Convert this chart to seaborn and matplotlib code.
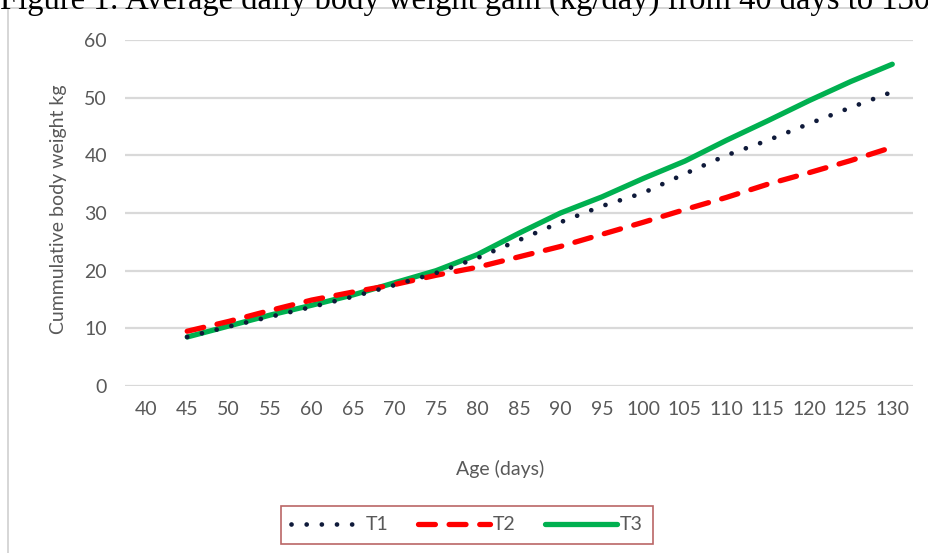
import matplotlib
matplotlib.use("Agg")
import matplotlib.pyplot as plt
from matplotlib.patches import Rectangle
import seaborn as sns
import pandas as pd

# Age categories on the x axis and cumulative weight per treatment (kg)
ages_axis = [40, 45, 50, 55, 60, 65, 70, 75, 80, 85, 90, 95, 100, 105, 110, 115, 120, 125, 130]
ages = [45, 50, 55, 60, 65, 70, 75, 80, 85, 90, 95, 100, 105, 110, 115, 120, 125, 130]
t1 = [8.5, 10.3, 12.0, 13.7, 15.5, 17.5, 19.6, 22.2, 25.3, 28.4, 31.2, 33.5, 36.8, 40.0, 42.6, 45.5, 48.3, 51.0]
t2 = [9.5, 11.2, 13.1, 14.9, 16.3, 17.6, 19.2, 20.6, 22.4, 24.2, 26.3, 28.4, 30.6, 32.7, 35.0, 37.0, 39.1, 41.4]
t3 = [8.5, 10.4, 12.3, 14.0, 15.8, 17.9, 20.0, 22.8, 26.5, 30.0, 32.8, 36.0, 39.0, 42.6, 46.0, 49.5, 52.8, 55.8]
y_ticks = [0, 10, 20, 30, 40, 50, 60]

sns.set_theme(style="white")
plt.rcParams["font.family"] = ["Lato", "DejaVu Sans"]

W, H = 929, 553
FS = 14
fig = plt.figure(figsize=(W / 100, H / 100), dpi=100)
fig.patch.set_facecolor("white")

# outer chart frame
fig.patches.append(Rectangle((8 / W, -0.05), 1.1, (H - 8) / H + 0.05,
                             transform=fig.transFigure, fill=False,
                             edgecolor="#d0d0d0", linewidth=1.2))

# caption above the chart
fig.text(0.0, (H - 9) / H, "Figure 1: Average daily body weight gain (kg/day) from 40 days to 130",
         family=["Liberation Serif", "DejaVu Serif"], fontsize=23.5, va="baseline", ha="left",
         color="black")

ax = fig.add_axes([125 / W, (H - 386) / H, 788 / W, 346 / H])

df1 = pd.DataFrame({"Age": ages, "Weight": t1})
df2 = pd.DataFrame({"Age": ages, "Weight": t2})
df3 = pd.DataFrame({"Age": ages, "Weight": t3})

sns.lineplot(data=df3, x="Age", y="Weight", ax=ax, color="#00b050", linewidth=3.8,
             solid_capstyle="round", label="T3", zorder=3)
sns.lineplot(data=df2, x="Age", y="Weight", ax=ax, color="#ff0000", linewidth=3.8,
             linestyle=(0, (3.2, 2.6)), dash_capstyle="round", label="T2", zorder=4)
sns.lineplot(data=df1, x="Age", y="Weight", ax=ax, color="#0f1a3a", linewidth=3.4,
             linestyle=(0, (0.01, 3.2)), dash_capstyle="round", label="T1", zorder=5)

ax.set_xlim(37.5, 132.5)
ax.set_ylim(0, 60)
ax.set_xticks(ages_axis)
ax.set_xticklabels([str(a) for a in ages_axis])
ax.set_yticks(y_ticks)
ax.yaxis.grid(True, color="#d9d9d9", linewidth=1.6)
ax.xaxis.grid(False)
for s in ax.spines.values():
    s.set_visible(False)
ax.tick_params(axis="both", length=0, labelsize=FS, labelcolor="#595959")
ax.tick_params(axis="y", pad=13)
ax.tick_params(axis="x", pad=11)

ax.set_xlabel("Age (days)", fontsize=FS, color="#595959")
ax.set_ylabel("Cummulative body weight kg", fontsize=FS, color="#595959")
ax.xaxis.set_label_coords(0.476, -0.214)
ax.yaxis.set_label_coords(-0.074, 0.51)

handles, labels = ax.get_legend_handles_labels()
order = [labels.index(k) for k in ["T1", "T2", "T3"]]
leg = ax.legend([handles[i] for i in order], [labels[i] for i in order],
                loc="center", bbox_to_anchor=(467 / W, (H - 525) / H),
                bbox_transform=fig.transFigure, ncol=3, frameon=True, fancybox=False,
                fontsize=FS, handlelength=3.7, handletextpad=0.15, columnspacing=1.5,
                borderpad=0.55)
leg.get_frame().set_edgecolor("#a8403f")
leg.get_frame().set_linewidth(1.2)
for t in leg.get_texts():
    t.set_color("#595959")

fig.savefig("out.png", dpi=100)
